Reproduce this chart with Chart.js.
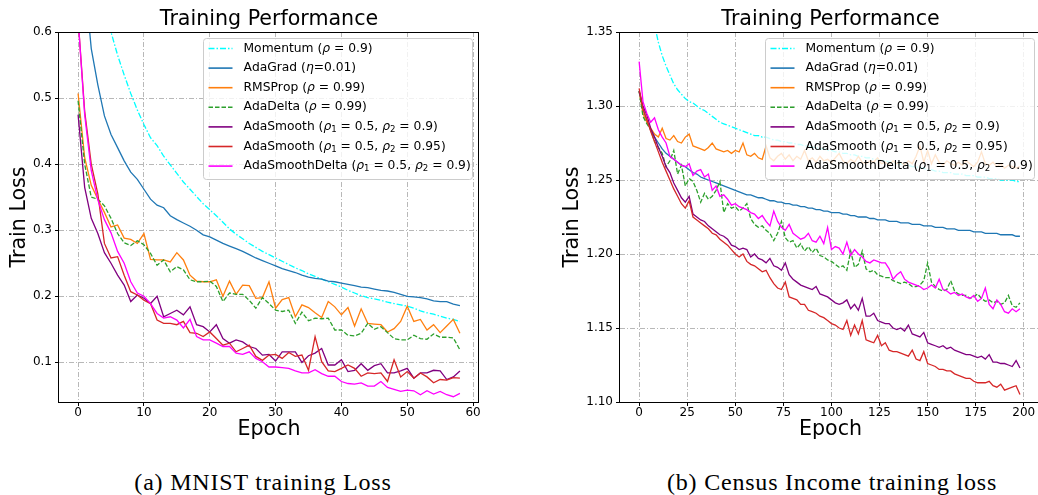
<!DOCTYPE html>
<html>
<head>
<meta charset="utf-8">
<script src="https://cdn.jsdelivr.net/npm/chart.js@4.4.0/dist/chart.umd.min.js"></script>
<style>
  body { margin: 0; background: #fff; width: 1038px; height: 495px; position: relative; overflow: hidden; }
  canvas { position: absolute; top: 0; }
  #mnist { left: 0; }
  #census { left: 553px; }
  .caption { position: absolute; top: 469px; font-family: "Liberation Serif", serif; font-size: 24px;
             line-height: 26px; text-align: center; letter-spacing: 0.8px; color: #000; }
  #capA { left: 0; width: 526px; }
  #capB { left: 526px; width: 612px; }
</style>
</head>
<body>
<canvas id="mnist" width="490" height="445"></canvas>
<canvas id="census" width="492" height="445"></canvas>
<div class="caption" id="capA">(a) MNIST training Loss</div>
<div class="caption" id="capB">(b) Census Income training loss</div>
<script>
// series labels (same for both plots)
const seriesNames = [
  'Momentum (ρ = 0.9)',
  'AdaGrad (η=0.01)',
  'RMSProp (ρ = 0.99)',
  'AdaDelta (ρ = 0.99)',
  'AdaSmooth (ρ₁ = 0.5, ρ₂ = 0.9)',
  'AdaSmooth (ρ₁ = 0.5, ρ₂ = 0.95)',
  'AdaSmoothDelta (ρ₁ = 0.5, ρ₂ = 0.9)'
];
const seriesColors = ['#00ffff', '#1f77b4', '#ff7f0e', '#2ca02c', '#800080', '#d62728', '#ff00ff'];
const seriesDash = [[6, 2, 1.5, 2], [], [], [4.5, 2], [], [], []];

// ---- MNIST ----
const mnistEpochs = [0,1,2,3,4,5,6,7,8,9,10,11,12,13,14,15,16,17,18,19,20,21,22,23,24,25,26,27,28,29,
  30,31,32,33,34,35,36,37,38,39,40,41,42,43,44,45,46,47,48,49,50,51,52,53,54,55,56,57,58];
const mnistMomentum = [1.6,1.05,0.85,0.74,0.66,0.60,0.565,0.535,0.507,0.482,0.46,0.44,0.428,0.412,0.399,0.386,0.373,0.362,0.351,0.34,
  0.331,0.322,0.312,0.302,0.294,0.287,0.28,0.274,0.268,0.263,0.258,0.253,0.248,0.243,0.239,0.234,0.23,0.226,0.222,0.218,
  0.214,0.209,0.205,0.201,0.198,0.196,0.194,0.191,0.189,0.187,0.185,0.182,0.178,0.175,0.173,0.17,0.167,0.165,0.162];
const mnistAdaGrad = [1.0,0.68,0.575,0.52,0.473,0.445,0.425,0.405,0.388,0.377,0.362,0.347,0.338,0.334,0.322,0.316,0.311,0.306,0.300,0.293,
  0.290,0.285,0.280,0.276,0.272,0.268,0.263,0.258,0.254,0.250,0.246,0.242,0.239,0.236,0.232,0.229,0.227,0.226,0.223,0.222,
  0.220,0.218,0.216,0.214,0.213,0.211,0.209,0.208,0.206,0.203,0.200,0.199,0.198,0.196,0.193,0.192,0.192,0.188,0.186];
const mnistRMSProp = [0.507,0.41,0.368,0.347,0.327,0.305,0.308,0.288,0.286,0.280,0.295,0.256,0.255,0.255,0.252,0.266,0.255,0.232,0.223,0.222,
  0.222,0.225,0.200,0.223,0.203,0.217,0.216,0.197,0.198,0.222,0.182,0.195,0.198,0.169,0.187,0.183,0.175,0.168,0.192,0.184,
  0.172,0.183,0.155,0.181,0.159,0.158,0.157,0.146,0.151,0.162,0.185,0.162,0.165,0.149,0.157,0.145,0.155,0.165,0.144];
const mnistAdaDelta = [0.496,0.40,0.35,0.347,0.337,0.318,0.295,0.281,0.277,0.284,0.278,0.265,0.247,0.255,0.237,0.245,0.240,0.225,0.222,0.222,
  0.223,0.215,0.192,0.205,0.203,0.203,0.194,0.182,0.198,0.189,0.179,0.177,0.179,0.159,0.176,0.163,0.167,0.166,0.167,0.149,
  0.149,0.141,0.140,0.144,0.159,0.150,0.154,0.145,0.136,0.134,0.134,0.141,0.136,0.135,0.143,0.138,0.138,0.137,0.119];
const mnistSmooth09 = [0.475,0.365,0.318,0.295,0.266,0.250,0.232,0.217,0.192,0.202,0.197,0.189,0.200,0.169,0.174,0.179,0.172,0.184,0.157,0.154,
  0.146,0.157,0.136,0.129,0.134,0.131,0.124,0.121,0.111,0.112,0.102,0.116,0.116,0.116,0.100,0.110,0.114,0.121,0.096,0.096,
  0.104,0.086,0.088,0.098,0.088,0.095,0.098,0.084,0.084,0.087,0.091,0.076,0.084,0.084,0.088,0.087,0.074,0.078,0.087];
const mnistSmooth095 = [0.62,0.48,0.40,0.355,0.280,0.258,0.260,0.232,0.207,0.202,0.194,0.189,0.164,0.159,0.159,0.157,0.162,0.145,0.144,0.139,
  0.146,0.136,0.126,0.129,0.116,0.121,0.126,0.109,0.103,0.111,0.112,0.106,0.115,0.109,0.111,0.088,0.139,0.101,0.087,0.086,
  0.091,0.096,0.091,0.079,0.084,0.083,0.084,0.071,0.104,0.078,0.086,0.076,0.084,0.078,0.069,0.074,0.073,0.077,0.076];
const mnistSmoothDelta = [0.62,0.475,0.39,0.346,0.316,0.296,0.268,0.250,0.222,0.205,0.200,0.189,0.174,0.167,0.169,0.164,0.152,0.165,0.139,0.134,
  0.134,0.129,0.124,0.124,0.114,0.112,0.116,0.106,0.101,0.093,0.093,0.092,0.091,0.087,0.084,0.084,0.089,0.083,0.079,0.079,
  0.071,0.068,0.067,0.069,0.064,0.064,0.071,0.062,0.059,0.056,0.058,0.057,0.051,0.057,0.052,0.056,0.051,0.048,0.053];
const mnistXTicks = [0, 10, 20, 30, 40, 50, 60];
const mnistYTicks = [0.1, 0.2, 0.3, 0.4, 0.5, 0.6];

// ---- Census Income ----
const censusEpochs = [0,2,4,6,8,10,12,14,16,18,20,22,24,26,28,30,32,34,36,38,40,42,44,46,48,50,52,54,56,58,
  60,62,64,66,68,70,72,74,76,78,80,82,84,86,88,90,92,94,96,98,100,102,104,106,108,110,112,114,116,118,
  120,122,124,126,128,130,132,134,136,138,140,142,144,146,148,150,152,154,156,158,160,162,164,166,168,170,172,174,176,178,
  180,182,184,186,188,190,192,194,196,198];
const censusMomentum = [1.55,1.45,1.40,1.37,1.355,1.343,1.334,1.327,1.321,1.315,
  1.311,1.308,1.305,1.303,1.302,1.300,1.298,1.297,1.295,1.293,
  1.291,1.289,1.288,1.287,1.286,1.285,1.284,1.283,1.282,1.281,
  1.280,1.280,1.279,1.279,1.278,1.277,1.277,1.276,1.276,1.275,
  1.275,1.274,1.274,1.273,1.273,1.272,1.272,1.271,1.271,1.270,
  1.270,1.269,1.269,1.268,1.268,1.267,1.267,1.266,1.266,1.265,
  1.265,1.264,1.264,1.263,1.263,1.262,1.262,1.261,1.261,1.260,
  1.260,1.259,1.259,1.258,1.258,1.257,1.257,1.256,1.256,1.255,
  1.255,1.255,1.254,1.254,1.254,1.253,1.253,1.253,1.252,1.252,
  1.252,1.251,1.251,1.251,1.250,1.250,1.250,1.250,1.249,1.249];
const censusAdaGrad = [1.310,1.298,1.290,1.284,1.279,1.275,1.271,1.268,1.266,1.264,
  1.262,1.260,1.259,1.257,1.255,1.254,1.252,1.251,1.250,1.249,
  1.248,1.247,1.246,1.245,1.244,1.243,1.242,1.241,1.240,1.240,
  1.239,1.238,1.238,1.237,1.236,1.236,1.235,1.235,1.234,1.234,
  1.233,1.233,1.232,1.232,1.231,1.231,1.230,1.230,1.229,1.229,
  1.228,1.228,1.228,1.227,1.227,1.226,1.226,1.225,1.225,1.225,
  1.224,1.224,1.223,1.223,1.223,1.222,1.222,1.222,1.221,1.221,
  1.221,1.220,1.220,1.220,1.219,1.219,1.219,1.218,1.218,1.218,
  1.217,1.217,1.217,1.216,1.216,1.216,1.216,1.215,1.215,1.215,
  1.214,1.214,1.214,1.214,1.213,1.213,1.213,1.213,1.212,1.212];
const censusRMSProp = [1.310,1.295,1.289,1.285,1.281,1.279,1.285,1.278,1.277,1.280,
  1.276,1.275,1.279,1.281,1.273,1.272,1.271,1.270,1.272,1.275,
  1.271,1.270,1.269,1.270,1.268,1.270,1.269,1.275,1.267,1.266,
  1.268,1.265,1.264,1.273,1.265,1.263,1.266,1.268,1.264,1.267,
  1.263,1.266,1.264,1.270,1.263,1.265,1.262,1.266,1.263,1.264,
  1.262,1.265,1.268,1.263,1.261,1.264,1.262,1.266,1.262,1.261,
  1.263,1.262,1.265,1.261,1.262,1.260,1.263,1.261,1.262,1.260,
  1.263,1.261,1.266,1.273,1.262,1.270,1.261,1.267,1.262,1.260,
  1.263,1.261,1.260,1.262,1.260,1.263,1.261,1.259,1.262,1.269,
  1.261,1.260,1.262,1.259,1.261,1.258,1.260,1.259,1.258,1.259];
const censusAdaDelta = [1.310,1.293,1.288,1.284,1.276,1.272,1.268,1.259,1.263,1.270,
  1.254,1.260,1.246,1.251,1.249,1.243,1.235,1.241,1.237,1.239,
  1.243,1.249,1.228,1.234,1.231,1.232,1.229,1.231,1.234,1.224,
  1.220,1.218,1.219,1.216,1.214,1.209,1.214,1.222,1.211,1.208,
  1.209,1.204,1.207,1.202,1.205,1.201,1.204,1.199,1.198,1.196,
  1.195,1.193,1.191,1.192,1.189,1.202,1.191,1.193,1.202,1.190,
  1.188,1.189,1.186,1.185,1.184,1.184,1.182,1.181,1.180,1.181,
  1.180,1.178,1.178,1.179,1.182,1.194,1.181,1.178,1.176,1.175,
  1.176,1.182,1.175,1.173,1.172,1.172,1.170,1.171,1.173,1.170,
  1.168,1.169,1.167,1.168,1.166,1.167,1.172,1.165,1.164,1.167];
const censusSmooth09 = [1.310,1.300,1.294,1.285,1.279,1.272,1.266,1.259,1.255,1.248,
  1.243,1.238,1.235,1.239,1.227,1.225,1.223,1.222,1.219,1.217,
  1.215,1.213,1.212,1.210,1.206,1.205,1.203,1.204,1.203,1.198,
  1.200,1.197,1.196,1.194,1.197,1.192,1.191,1.189,1.194,1.186,
  1.183,1.181,1.179,1.178,1.177,1.176,1.178,1.173,1.172,1.171,
  1.169,1.167,1.166,1.167,1.169,1.163,1.166,1.162,1.170,1.158,
  1.158,1.160,1.155,1.154,1.153,1.153,1.150,1.149,1.150,1.148,
  1.152,1.146,1.145,1.144,1.147,1.140,1.139,1.138,1.137,1.138,
  1.136,1.137,1.135,1.134,1.133,1.132,1.132,1.131,1.130,1.131,
  1.129,1.132,1.127,1.127,1.126,1.126,1.125,1.124,1.128,1.123];
const censusSmooth095 = [1.312,1.298,1.291,1.283,1.276,1.269,1.262,1.256,1.250,1.244,
  1.239,1.234,1.231,1.236,1.225,1.223,1.221,1.219,1.217,1.214,
  1.213,1.210,1.208,1.206,1.203,1.200,1.198,1.200,1.195,1.193,
  1.192,1.190,1.188,1.189,1.184,1.180,1.177,1.176,1.181,1.171,
  1.170,1.169,1.166,1.166,1.162,1.161,1.160,1.158,1.157,1.155,
  1.153,1.152,1.150,1.149,1.155,1.145,1.152,1.146,1.155,1.142,
  1.141,1.140,1.145,1.138,1.140,1.135,1.134,1.134,1.133,1.132,
  1.131,1.135,1.129,1.128,1.134,1.126,1.125,1.124,1.122,1.122,
  1.121,1.121,1.119,1.118,1.117,1.116,1.116,1.114,1.113,1.113,
  1.113,1.114,1.111,1.110,1.112,1.108,1.109,1.110,1.111,1.105];
const censusSmoothDelta = [1.330,1.303,1.295,1.289,1.292,1.284,1.279,1.275,1.266,1.264,
  1.262,1.260,1.259,1.261,1.253,1.256,1.257,1.252,1.254,1.243,
  1.246,1.239,1.240,1.237,1.233,1.234,1.232,1.231,1.230,1.228,
  1.227,1.224,1.226,1.222,1.219,1.229,1.222,1.218,1.216,1.220,
  1.214,1.212,1.210,1.211,1.214,1.209,1.208,1.212,1.207,1.218,
  1.203,1.205,1.204,1.200,1.208,1.199,1.203,1.200,1.198,1.195,
  1.194,1.196,1.195,1.194,1.194,1.190,1.183,1.186,1.188,1.183,
  1.181,1.180,1.179,1.178,1.176,1.177,1.179,1.177,1.183,1.176,
  1.175,1.173,1.174,1.172,1.173,1.171,1.170,1.172,1.168,1.170,
  1.177,1.166,1.163,1.169,1.166,1.161,1.160,1.163,1.161,1.163];
const censusXTicks = [0, 25, 50, 75, 100, 125, 150, 175, 200];
const censusYTicks = [1.10, 1.15, 1.20, 1.25, 1.30, 1.35];

Chart.defaults.font.family = '"DejaVu Sans", sans-serif';
Chart.defaults.color = '#000';

// draw a legend label, italic greek letters and small subscripts like mathtext
function drawLabel(ctx, text, x, y, size) {
  const normal = size + 'px "DejaVu Sans"';
  const italic = 'italic ' + size + 'px "DejaVu Sans"';
  const small = (size * 0.7) + 'px "DejaVu Sans"';
  ctx.textBaseline = 'middle';
  ctx.textAlign = 'left';
  ctx.fillStyle = '#000';
  for (const ch of text) {
    let s = ch, dy = 0;
    if (ch === 'ρ' || ch === 'η') ctx.font = italic;
    else if (ch === '₁' || ch === '₂') { ctx.font = small; s = ch === '₁' ? '1' : '2'; dy = size * 0.25; }
    else ctx.font = normal;
    ctx.fillText(s, x, y + dy);
    x += ctx.measureText(s).width;
  }
}

const frameLegend = {
  id: 'frameLegend',
  afterDatasetsDraw(chart) {
    const {ctx, chartArea: a} = chart;
    ctx.save();
    // spines
    ctx.strokeStyle = '#000';
    ctx.lineWidth = 1;
    ctx.setLineDash([]);
    const l = Math.floor(a.left) - 0.5, t = Math.floor(a.top) + 0.5;
    const r = Math.ceil(a.right) - 0.5, b = Math.ceil(a.bottom) + 0.5;
    ctx.strokeRect(l, t, r - l, b - t);
    // legend, upper right
    const boxW = 269, boxH = 141, rowH = 19.6;
    const x0 = Math.round(a.right - 7 - boxW) + 0.5, y0 = Math.round(a.top + 6) + 0.5;
    ctx.beginPath();
    ctx.roundRect(x0, y0, boxW, boxH, 3);
    ctx.fillStyle = 'rgba(255,255,255,0.8)';
    ctx.fill();
    ctx.strokeStyle = '#cccccc';
    ctx.stroke();
    chart.data.datasets.forEach((ds, i) => {
      const y = y0 + 10 + i * rowH;
      ctx.beginPath();
      ctx.setLineDash(ds.borderDash || []);
      ctx.strokeStyle = ds.borderColor;
      ctx.lineWidth = 1.6;
      ctx.moveTo(x0 + 5, y);
      ctx.lineTo(x0 + 29, y);
      ctx.stroke();
      ctx.setLineDash([]);
      drawLabel(ctx, ds.label, x0 + 40, y, 12.3);
    });
    ctx.restore();
  }
};

function makeChart(id, epochs, series, xr, yr, xTicks, yTicks, yDec, yWidth, padRight) {
  const datasets = series.map((vals, i) => ({
    label: seriesNames[i],
    data: vals.map((v, k) => ({x: epochs[k], y: v})),
    borderColor: seriesColors[i],
    borderDash: seriesDash[i],
    borderWidth: 1.3,
    pointRadius: 0,
    tension: 0,
    fill: false,
    order: series.length - i
  }));
  const axisGrid = {color: '#b8b8b8', lineWidth: 1, tickColor: '#000', tickLength: 4, tickWidth: 1, tickBorderDash: []};
  return new Chart(document.getElementById(id), {
    type: 'line',
    data: {datasets},
    options: {
      responsive: false,
      animation: false,
      devicePixelRatio: 1,
      layout: {padding: {left: 0, right: padRight, top: 0, bottom: 0}},
      plugins: {
        legend: {display: false},
        tooltip: {enabled: false},
        title: {
          display: true, text: 'Training Performance', fullSize: false,
          font: {size: 20.6, weight: 'normal'}, color: '#000',
          padding: {top: 7, bottom: 0.3}
        }
      },
      scales: {
        x: {
          type: 'linear', min: xr[0], max: xr[1],
          afterBuildTicks: s => { s.ticks = xTicks.map(v => ({value: v})); },
          afterFit: s => { s.height = 43; },
          grid: axisGrid,
          border: {display: false, dash: [5, 2, 1, 2]},
          ticks: {font: {size: 12}, padding: 0, color: '#000', maxRotation: 0},
          title: {display: true, text: 'Epoch', font: {size: 20.6}, color: '#000', padding: {top: 0, bottom: 3}}
        },
        y: {
          type: 'linear', min: yr[0], max: yr[1],
          afterBuildTicks: s => { s.ticks = yTicks.map(v => ({value: v})); },
          afterFit: s => { s.width = yWidth; },
          grid: axisGrid,
          border: {display: false, dash: [5, 2, 1, 2]},
          ticks: {font: {size: 12}, padding: 3, color: '#000', callback: v => Number(v).toFixed(yDec)},
          title: {display: true, text: 'Train Loss', font: {size: 20.6}, color: '#000', padding: {top: 7, bottom: 0}}
        }
      }
    },
    plugins: [frameLegend]
  });
}

makeChart('mnist', mnistEpochs,
  [mnistMomentum, mnistAdaGrad, mnistRMSProp, mnistAdaDelta, mnistSmooth09, mnistSmooth095, mnistSmoothDelta],
  [-2.9, 60.9], [0.04, 0.6], mnistXTicks, mnistYTicks, 1, 59, 11);

makeChart('census', censusEpochs,
  [censusMomentum, censusAdaGrad, censusRMSProp, censusAdaDelta, censusSmooth09, censusSmooth095, censusSmoothDelta],
  [-9.95, 208.95], [1.10, 1.35], censusXTicks, censusYTicks, 2, 67, 4);
</script>
</body>
</html>
